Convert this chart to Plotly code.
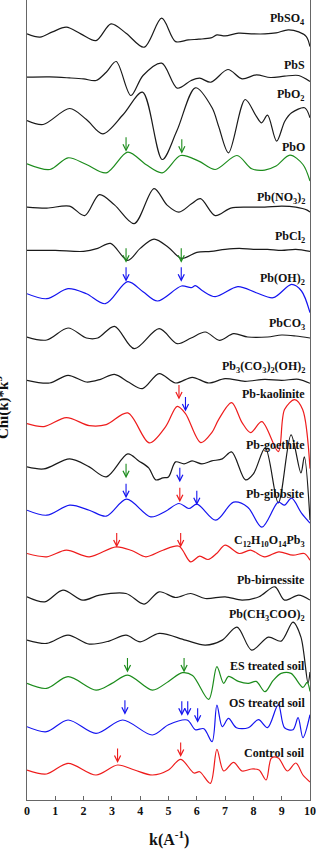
import plotly.graph_objects as go

# ---------------- data (chi(k)*k^3, arbitrary units; 1 unit ~ 1 px in the figure) ----------------
NAMES = ["PbSO<sub>4</sub>", "PbS", "PbO<sub>2</sub>", "PbO", "Pb(NO<sub>3</sub>)<sub>2</sub>",
         "PbCl<sub>2</sub>", "Pb(OH)<sub>2</sub>", "PbCO<sub>3</sub>",
         "Pb<sub>3</sub>(CO<sub>3</sub>)<sub>2</sub>(OH)<sub>2</sub>", "Pb-kaolinite", "Pb-goethite",
         "Pb-gibbsite", "C<sub>12</sub>H<sub>10</sub>O<sub>14</sub>Pb<sub>3</sub>", "Pb-birnessite",
         "Pb(CH<sub>3</sub>COO)<sub>2</sub>", "ES treated soil", "OS treated soil", "Control soil"]

K_PbSO4 = [0, 0.46, 0.9, 1.39, 1.9, 2.44, 2.97, 3.5, 4.14, 4.76, 5.25, 5.7, 6.07, 6.5, 6.71, 7.0, 7.47, 8.0, 8.41, 8.8, 9.23, 9.6, 9.87, 10]
V_PbSO4 = [0, -3.3, 2, 6.7, 0, -6.7, 10, 0.7, -13.3, 15.7, -7.7, -6, -5.3, -4, -1, -2, 0.7, 0, 0, 1, 4, 2, -2.7, -12.7]

K_PbS = [0, 0.8, 1.5, 2.0, 2.44, 2.8, 3.15, 3.67, 4.1, 4.76, 5.31, 5.8, 6.1, 6.5, 7.1, 7.6, 8.1, 8.6, 9.1, 9.6, 10]
V_PbS = [0, 0.3, -0.7, -1.7, -3.3, 5, 15.7, -18.3, 1.7, 14, -11, -3.3, -1, -5, 7.7, -1.7, 2.3, -0.3, 1, 1.7, -4.3]

K_PbO2 = [0, 0.57, 1.51, 2.1, 2.68, 3.4, 4.08, 4.78, 5.3, 5.95, 6.54, 6.77, 7.12, 7.71, 8.1, 8.29, 8.5, 8.82, 9.11, 9.35, 9.81, 10]
V_PbO2 = [0, -4, 12, 1, -13.3, 6, 28.3, -39, -10, 32.7, 12.7, -5.7, -32.3, 21, 4.3, -2.3, 5.3, -20.7, -0.7, 7.7, 12.7, 2.7]

K_PbO = [0, 0.81, 1.45, 2.1, 2.8, 3.56, 4.2, 4.78, 5.43, 6.07, 6.65, 7.42, 7.94, 8.4, 8.8, 9.29, 9.75, 10]
V_PbO = [0, -5.7, 6, -0.7, -9, 11.7, -0.7, -9, 8.3, 2.7, -5.7, 8.3, -5, -6.3, -2.3, 8.7, -0.7, -17.3]

K_PbNO3 = [0, 0.7, 1.5, 2.04, 2.56, 3.1, 3.79, 4.49, 4.95, 5.37, 5.8, 6.13, 6.65, 7.2, 7.8, 8.4, 9.0, 9.5, 9.9, 10]
V_PbNO3 = [0, -1, 1, -8.5, 12.5, 2, -16.5, 18.5, 2, -5, 3, 8.5, -8.5, -1, 0, 0, 1, 0, -3, -5]

K_PbCl2 = [0, 1.0, 2.0, 2.5, 2.95, 3.56, 4.0, 4.49, 5.0, 5.46, 6.0, 6.5, 7.0, 7.5, 8.0, 8.5, 9.0, 9.5, 10]
V_PbCl2 = [0, 0, -1, 2, 7, -10, 2, 11.3, 3, -8, -2, -1, 1, 2, 1, 1, 0, 1, -1]

K_PbOH2 = [0, 0.7, 1.45, 2.1, 2.77, 3.56, 4.1, 4.61, 5.46, 5.8, 5.95, 6.2, 6.65, 7.45, 8.1, 8.7, 9.35, 9.7, 10]
V_PbOH2 = [0, -5, 5, 0, -10, 12, 2, -7.3, 7.7, 6, 8, 3, -3, 7, 1, -4, 9.3, 2.7, -19]

K_PbCO3 = [0, 0.7, 1.45, 2.1, 2.5, 3.09, 3.79, 4.67, 5.31, 5.8, 6.3, 6.8, 7.3, 7.8, 8.5, 9.0, 9.5, 10]
V_PbCO3 = [0, -3, 9, -1, -1, 10.7, -11.7, 8.3, -6.7, -1, 5, -3.3, 3.3, 0, 0, 2, 1, -1]

K_Hydrocer = [0, 0.8, 1.45, 2.1, 2.6, 3.09, 3.6, 4.08, 4.67, 5.25, 5.84, 6.42, 7.0, 7.7, 8.4, 9.0, 9.6, 10]
V_Hydrocer = [0, -2.7, 5, -1.7, 1, 6, -2, -8.3, 6.7, -2.7, 3, -2.7, 1.7, -1, 1, 0, 1, -3]

K_Kaol = [0, 0.6, 1.39, 2.2, 2.8, 3.56, 4.32, 4.9, 5.31, 5.6, 6.14, 6.53, 6.77, 7.23, 7.6, 7.9, 8.3, 8.88, 9.1, 9.46, 9.74, 10]
V_Kaol = [0, -3, 6, -2, -1, 10.7, -19.3, -3, 17.3, 10, -19, -9, 4, 21, 1, -9, 2, -28, 14, 24, 14, -45]

K_Goet = [0, 0.6, 1.51, 2.2, 2.8, 3.56, 3.95, 4.3, 4.55, 4.8, 5.0, 5.25, 5.55, 5.83, 6.18, 6.53, 6.9, 7.23, 7.72, 8.0, 8.42, 8.88, 9.33, 9.68, 9.8, 10]
V_Goet = [0, -2, 8, 0, -10, 13, 6, -1, -13, -11, -10, 5, 3, 6, 3, 6, 8, 15, -13, -7, 19, -36, 32, -6, 10, -53]

K_Gibb = [0, 0.7, 1.51, 2.2, 2.8, 3.52, 4.37, 4.9, 5.37, 5.72, 6.01, 6.67, 7.3, 7.8, 8.3, 8.88, 9.1, 9.35, 9.7, 10]
V_Gibb = [0, -5, 5, 0, -6, 11, -6.7, -1, 6.7, 1.7, 6, -10, 8, 3, -17, 8, 5, 12, -3, -13]

K_Citr = [0, 0.7, 1.39, 2.2, 3.15, 3.7, 4.2, 4.8, 5.37, 5.78, 6.1, 6.4, 6.7, 7.0, 7.5, 7.9, 8.4, 8.9, 9.4, 9.8, 10]
V_Citr = [0, -3.3, 3.3, -3.3, 6.7, 3, -3.3, 3.3, 7.3, -8.3, -2.7, -6, 0, 8.3, 0, 3.3, -3.3, 1.7, -1.7, 0, -6.7]

K_Birn = [0, 0.63, 1.27, 1.97, 2.56, 3.5, 4.14, 4.67, 5.25, 5.78, 6.3, 7.0, 7.6, 8.2, 8.76, 9.1, 9.6, 10]
V_Birn = [0, -5, 6.7, -3.3, 1.7, 3.3, -7.3, 5, -0.7, 3.3, -1.7, 0, -3.3, 0, 10, -3.3, 1.7, -3.3]

K_Acet = [0, 0.7, 1.45, 2.2, 2.9, 3.5, 4.0, 4.67, 5.6, 6.3, 6.9, 7.42, 7.94, 8.53, 8.98, 9.4, 9.68, 9.93, 10]
V_Acet = [0, -3.3, 5, -4, -1, 5, -1.7, 6.7, 0, -5, 0, 13, -10, 3, -1, 18, 3, -43, -32]

K_ES = [0, 0.69, 1.45, 2.44, 3.0, 3.56, 4.43, 5.0, 5.49, 5.85, 6.42, 6.71, 6.95, 7.12, 7.47, 7.82, 8.1, 8.41, 8.7, 8.98, 9.33, 9.75, 9.9, 10]
V_ES = [0, -5, 6.7, -6.7, 0, 8.3, -6.7, 2, 10.7, 8, -16, 16.7, 0, 7, 2, 0, 2, -8.3, 3, 10, 10, -4, 1, -8]

K_OS = [0, 0.69, 1.45, 2.44, 3.38, 4.43, 5.0, 5.66, 5.95, 6.25, 6.54, 6.71, 6.9, 7.12, 7.4, 7.82, 8.18, 8.5, 8.88, 9.1, 9.4, 9.58, 9.75, 10]
V_OS = [0, -5, 6.7, -6.7, 6.7, -8.3, 2, 6.7, -3, -2, -15, 21.7, 0, 8.3, -1, -1, 7, -1, 22, -1, -3, 9, -11, 12]

K_Ctrl = [0, 0.69, 1.45, 2.44, 3.2, 3.8, 4.43, 5.0, 5.43, 5.9, 6.1, 6.48, 6.71, 6.95, 7.3, 7.6, 7.94, 8.2, 8.45, 8.64, 8.88, 9.2, 9.5, 9.75, 10]
V_Ctrl = [0, -4, 6.7, -5, 5, 0, -5, 0, 10.7, -3, -1.7, -13.3, 20.7, -1, 7.7, -1, 1, 0, -10, 12, 12, -1, 7, -5, -12]

K_SERIES = [K_PbSO4, K_PbS, K_PbO2, K_PbO, K_PbNO3, K_PbCl2, K_PbOH2, K_PbCO3, K_Hydrocer,
            K_Kaol, K_Goet, K_Gibb, K_Citr, K_Birn, K_Acet, K_ES, K_OS, K_Ctrl]
V_SERIES = [V_PbSO4, V_PbS, V_PbO2, V_PbO, V_PbNO3, V_PbCl2, V_PbOH2, V_PbCO3, V_Hydrocer,
            V_Kaol, V_Goet, V_Gibb, V_Citr, V_Birn, V_Acet, V_ES, V_OS, V_Ctrl]

# arrows: curve index, k position, height of arrow tip above the curve offset, colour key
ARROW_CURVE = [3, 3, 6, 6, 6, 6, 9, 9, 11, 11, 11, 11, 11, 12, 12, 15, 15, 16, 16, 16, 16, 17, 17]
ARROW_K = [3.5, 5.47, 3.5, 3.5, 5.45, 5.45, 5.37, 5.6, 3.5, 3.5, 5.4, 5.4, 6.0, 3.17, 5.43,
           3.55, 5.55, 3.46, 5.47, 5.68, 6.03, 3.2, 5.43]
ARROW_TIP = [12, 10, 31, 12, 31, 12, 24, 12, 32, 12, 28, 8, 5, 6, 6, 11, 11, 12, 11, 11, 4, 7, 13]
ARROW_COL = ["g", "g", "g", "b", "g", "b", "r", "b", "g", "b", "b", "r", "b", "r", "r",
             "g", "g", "b", "b", "b", "b", "r", "r"]

X_TICKS = [0, 1, 2, 3, 4, 5, 6, 7, 8, 9, 10]

# ---------------- styling ----------------
PAL = {"k": "#1a1a1a", "g": "#1c8c1c", "b": "#1414f0", "r": "#ee1c1c"}
CURVE_COL = ["k", "k", "k", "g", "k", "k", "b", "k", "k", "r", "k", "b", "r", "k", "k", "g", "b", "r"]
LABEL_DY = [15, 12, 26, 17, 9.5, 13.7, 14.3, 12.7, 13, 30, 21.7, 16, 13, 17, 25, 17, 24, 17]
SPACING = 43.3
FONT = "Liberation Serif, Times New Roman, serif"

n = len(NAMES)
offsets = [(n - 1 - i) * SPACING for i in range(n)]

fig = go.Figure()
for i in range(n):
    fig.add_trace(go.Scatter(
        x=K_SERIES[i], y=[offsets[i] + v for v in V_SERIES[i]], mode="lines",
        line=dict(color=PAL[CURVE_COL[i]], width=1.2, shape="spline", smoothing=0.9),
        showlegend=False, hoverinfo="skip"))

annotations = []
for i in range(n):
    annotations.append(dict(
        text=NAMES[i], xref="paper", x=0.99, xanchor="right",
        yref="y", y=offsets[i] + LABEL_DY[i], yanchor="middle", showarrow=False,
        font=dict(family=FONT, size=12, color="#111", weight="bold")))

for c, kx, tip, col in zip(ARROW_CURVE, ARROW_K, ARROW_TIP, ARROW_COL):
    annotations.append(dict(
        text="", x=kx, y=offsets[c] + tip, xref="x", yref="y",
        showarrow=True, ax=0, ay=-16, arrowhead=5, arrowsize=1.1, arrowwidth=1.1,
        arrowcolor=PAL[col], standoff=0))

annotations.append(dict(
    text="k(A<sup>-1</sup>)", xref="paper", yref="paper", x=0.5, y=-0.0475,
    xanchor="center", yanchor="middle", showarrow=False,
    font=dict(family=FONT, size=16, color="#111", weight="bold")))
annotations.append(dict(
    text="Chi(k)*k<sup>3</sup>", xref="paper", yref="paper", x=-0.088, y=0.49,
    xanchor="center", yanchor="middle", showarrow=False, textangle=-90,
    font=dict(family=FONT, size=15, color="#111", weight="bold")))

fig.update_layout(
    width=316, height=854, margin=dict(l=27, r=4, t=0, b=54),
    paper_bgcolor="white", plot_bgcolor="white",
    annotations=annotations,
    xaxis=dict(range=[0, 10], tickvals=X_TICKS, ticks="inside", ticklen=4, tickcolor="#666",
               showline=True, linecolor="#666", linewidth=1, mirror=False,
               showgrid=False, zeroline=False, ticklabeloverflow="allow",
               tickfont=dict(family=FONT, size=12, color="#111", weight="bold")),
    yaxis=dict(range=[-30, 770], showline=True, linecolor="#666", linewidth=1, mirror=True,
               showticklabels=False, ticks="", showgrid=False, zeroline=False),
)

fig.write_html("out.html")
